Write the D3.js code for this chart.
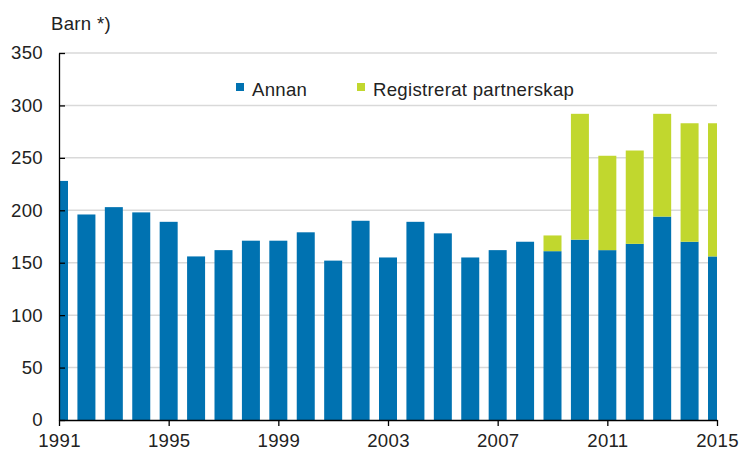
<!DOCTYPE html>
<html>
<head>
<meta charset="utf-8">
<script src="https://cdn.jsdelivr.net/npm/d3@7"></script>
<style>
  body { margin: 0; background: #fff; }
  text { font-family: "Liberation Sans", Arial, sans-serif; fill: #222; letter-spacing: 0.3px; }
</style>
</head>
<body>
<div id="chart"></div>
<script>
// data
var years = [1991, 1992, 1993, 1994, 1995, 1996, 1997, 1998, 1999, 2000, 2001, 2002, 2003,
             2004, 2005, 2006, 2007, 2008, 2009, 2010, 2011, 2012, 2013, 2014, 2015];
var annan = [228, 196, 203, 198, 189, 156, 162, 171, 171, 179, 152, 190, 155,
             189, 178, 155, 162, 170, 161, 172, 162, 168, 194, 170, 156];
var partnerskap = [0, 0, 0, 0, 0, 0, 0, 0, 0, 0, 0, 0, 0,
                   0, 0, 0, 0, 0, 15, 120, 90, 89, 98, 113, 127];
var seriesNames = ["Annan", "Registrerat partnerskap"];
var xTicks = [1991, 1995, 1999, 2003, 2007, 2011, 2015];
var yTicks = [0, 50, 100, 150, 200, 250, 300, 350];

var svgWidth = 743;
var svgHeight = 452;

var margin = { top: 53, right: 26, bottom: 32, left: 59 };
var width = svgWidth - margin.left - margin.right;
var height = svgHeight - margin.top - margin.bottom;

var colors = ["#0072b1", "#c1d72e"];
var fontSize = "18.6px";

var svg = d3.select("#chart").append("svg")
    .attr("width", svgWidth)
    .attr("height", svgHeight);

var chartGroup = svg.append("g")
    .attr("transform", `translate(${margin.left}, ${margin.top})`);

var x = d3.scaleLinear().domain([1991, 2015]).range([0, width]);
var y = d3.scaleLinear().domain([0, 350]).range([height, 0]);

// clip bars to plot area
svg.append("defs").append("clipPath").attr("id", "plot")
  .append("rect").attr("x", 0).attr("y", -5).attr("width", width).attr("height", height + 5);

// gridlines
chartGroup.selectAll(".grid")
    .data(yTicks.filter(d => d > 0))
    .enter()
    .append("line")
    .attr("x1", 0)
    .attr("x2", width)
    .attr("y1", d => y(d))
    .attr("y2", d => y(d))
    .attr("stroke", "#d9d9d9")
    .attr("stroke-width", 1.5);

// stacked bars
var table = years.map((yr, i) => ({ year: yr, Annan: annan[i], "Registrerat partnerskap": partnerskap[i] }));
var stacked = d3.stack().keys(seriesNames)(table);
var barW = 18;

var barsGroup = chartGroup.append("g").attr("clip-path", "url(#plot)");
barsGroup.selectAll("g")
    .data(stacked)
    .enter()
    .append("g")
    .attr("fill", (d, i) => colors[i])
    .selectAll("rect")
    .data(d => d.filter(p => p[1] - p[0] > 0))
    .enter()
    .append("rect")
    .attr("x", d => x(d.data.year) - barW / 2)
    .attr("width", barW)
    .attr("y", d => y(d[1]))
    .attr("height", d => y(d[0]) - y(d[1]));

// y axis
var leftAxis = d3.axisLeft(y).tickValues(yTicks).tickSize(-6).tickSizeOuter(0).tickPadding(16);
var yAxis = chartGroup.append("g").call(leftAxis);
yAxis.selectAll("text").attr("font-size", fontSize).style("font-family", "'Liberation Sans', Arial, sans-serif").attr("fill", "#222");

// x axis
var bottomAxis = d3.axisBottom(x).tickValues(xTicks).tickFormat(d3.format("d")).tickSize(6).tickSizeOuter(0).tickPadding(8);
var xAxis = chartGroup.append("g")
    .attr("transform", `translate(0, ${height})`)
    .call(bottomAxis);
xAxis.selectAll("text").attr("font-size", fontSize).style("font-family", "'Liberation Sans', Arial, sans-serif").attr("fill", "#222");

svg.selectAll(".domain, .tick line").attr("stroke", "#000").attr("stroke-width", 1.3);

// axis title
svg.append("text")
    .attr("x", 51)
    .attr("y", 30)
    .attr("font-size", fontSize)
    .text("Barn *)");

// legend
var legendItems = [
    { name: seriesNames[0], color: colors[0], x: 236 },
    { name: seriesNames[1], color: colors[1], x: 357 }
];
var legend = svg.selectAll(".legend")
    .data(legendItems)
    .enter()
    .append("g")
    .attr("transform", d => `translate(${d.x}, 82)`);

legend.append("rect")
    .attr("width", 8)
    .attr("height", 8)
    .attr("y", 1)
    .attr("fill", d => d.color);

legend.append("text")
    .attr("x", 16)
    .attr("y", 14)
    .attr("font-size", fontSize)
    .text(d => d.name);
</script>
</body>
</html>
